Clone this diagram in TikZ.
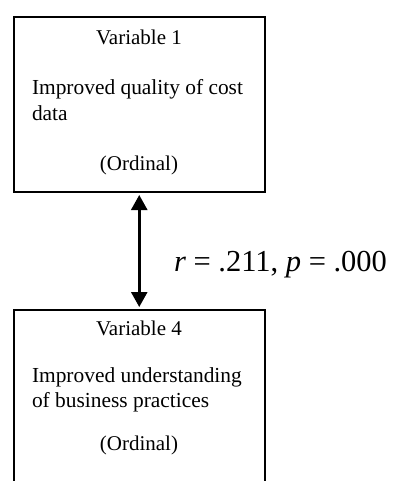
\documentclass[tikz,border=0pt]{standalone}
\usepackage{fontspec}
\setmainfont{Liberation Serif}
\usetikzlibrary{arrows.meta}
\tikzset{
  varbox/.style={draw, line width=2pt, outer sep=0pt, inner sep=0pt, minimum width=250.5pt},
  txt/.style={inner sep=0pt, outer sep=0pt, font=\fontsize{21}{26}\selectfont},
  body/.style={txt, font=\fontsize{21.4}{26}\selectfont},
  stat/.style={inner sep=0pt, outer sep=0pt, font=\fontsize{30.5}{36}\selectfont},
  link/.style={line width=2.5pt, {Triangle[length=15pt,width=16pt]}-{Triangle[length=15pt,width=16pt]}}
}
\begin{document}
\begin{tikzpicture}[x=1pt,y=-1pt]
  \useasboundingbox (0,0) rectangle (401,481);
  % two variable boxes; the lower one runs past the page edge
  \node[varbox, minimum height=175pt] (v1) at (139.25,104.5) {};
  \node[varbox, minimum height=210pt] (v4) at (139.25,414.5) {};
  % texts of variable 1
  \node[txt, anchor=base] (v1name) at (139,45) {Variable 1};
  \node[body, anchor=base west] (v1l1) at (32,95) {Improved quality of cost};
  \node[body, anchor=base west] (v1l2) at (32,121) {data};
  \node[txt, anchor=base] (v1type) at (139,170) {(Ordinal)};
  % texts of variable 4
  \node[txt, anchor=base] (v4name) at (139,335) {Variable 4};
  \node[body, anchor=base west] (v4l1) at (32,382) {Improved understanding};
  \node[body, anchor=base west] (v4l2) at (32,407) {of business practices};
  \node[txt, anchor=base] (v4type) at (139,450) {(Ordinal)};
  % correlation between them
  \draw[link, shorten <=3pt, shorten >=2.5pt] (v1.south) -- (v4.north);
  \node[stat, anchor=base west] (corr) at (174,271) {\textit{r} = .211, \textit{p} = .000};
\end{tikzpicture}
\end{document}
